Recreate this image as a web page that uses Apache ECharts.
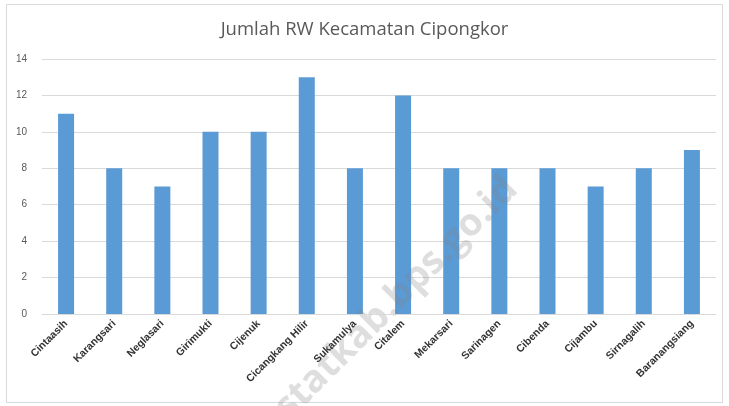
<!DOCTYPE html>
<html>
<head>
<meta charset="utf-8">
<script src="https://cdn.jsdelivr.net/npm/echarts@6/dist/echarts.min.js"></script>
<style>
html,body{margin:0;padding:0;background:#fff;}
#c{width:729px;height:406px;}
</style>
</head>
<body>
<div id="c"></div>
<script>
var titleText = 'Jumlah RW Kecamatan Cipongkor';
var categories = ['Cintaasih','Karangsari','Neglasari','Girimukti','Cijenuk','Cicangkang Hilir','Sukamulya','Citalem','Mekarsari','Sarinagen','Cibenda','Cijambu','Sirnagalih','Baranangsiang'];
var values = [11, 8, 7, 10, 10, 13, 8, 12, 8, 8, 8, 7, 8, 9];
var yTicks = [0, 2, 4, 6, 8, 10, 12, 14];

var chart = echarts.init(document.getElementById('c'), null, {renderer: 'canvas'});
chart.setOption({
  animation: false,
  backgroundColor: '#fff',
  title: {
    text: titleText,
    left: 'center',
    top: 15,
    textStyle: {fontFamily: 'Open Sans', fontSize: 18.5, fontWeight: 'normal', color: '#595959'}
  },
  graphic: [
    {type: 'rect', shape: {x: 6.5, y: 4.5, width: 716, height: 398}, style: {fill: 'none', stroke: '#d9d9d9', lineWidth: 1}, z: -1},
    {type: 'text', x: 268, y: 400, rotation: Math.PI / 4, style: {text: 'statkab.bps.go.id', fontSize: 38, fontWeight: 'bold', fontFamily: 'Open Sans', fill: 'rgba(128,128,128,0.26)'}, z: 50}
  ],
  grid: {left: 42, right: 13, top: 59, bottom: 92},
  xAxis: {
    type: 'category',
    data: categories,
    z: 100,
    axisTick: {show: false},
    axisLine: {lineStyle: {color: '#d9d9d9'}},
    axisLabel: {rotate: 45, interval: 0, fontSize: 10.5, fontWeight: 'bold', color: '#333333', fontFamily: 'Liberation Sans', margin: 8}
  },
  yAxis: {
    type: 'value',
    min: yTicks[0],
    max: yTicks[yTicks.length - 1],
    interval: 2,
    axisLine: {show: false},
    axisTick: {show: false},
    splitLine: {lineStyle: {color: '#d9d9d9'}},
    axisLabel: {fontSize: 10, color: '#595959', fontFamily: 'Liberation Sans', margin: 15}
  },
  series: [{
    type: 'bar',
    z: 1,
    data: values,
    barWidth: 16,
    itemStyle: {color: '#5b9bd5'}
  }]
});
</script>
</body>
</html>
